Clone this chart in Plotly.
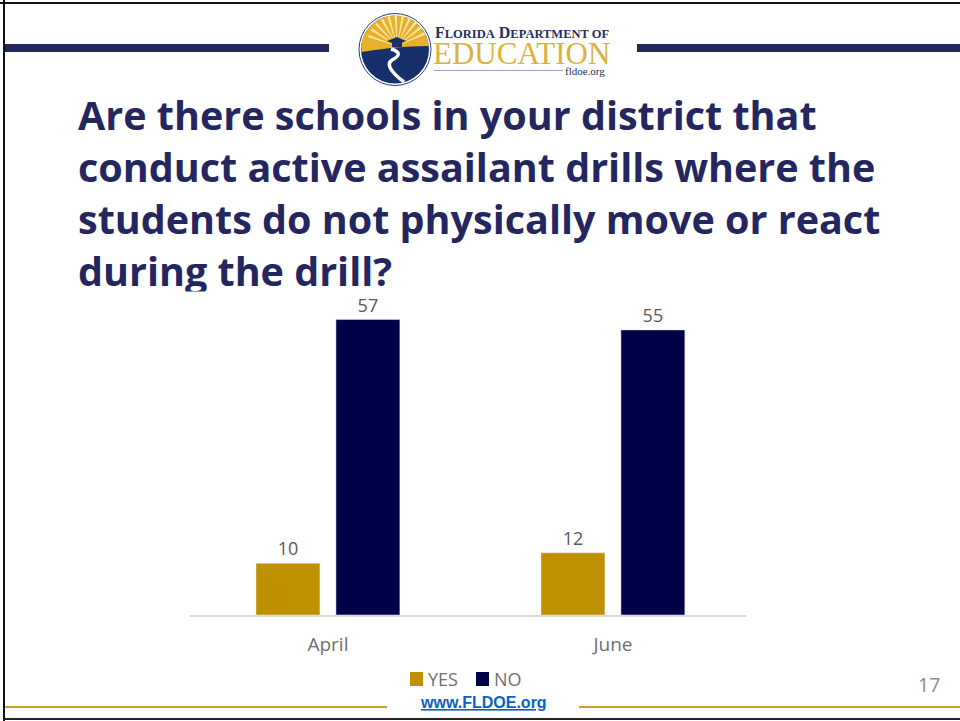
import math
import plotly.graph_objects as go

categories = ["April", "June"]
series_names = ["YES", "NO"]
yes_values = [10, 12]
no_values = [57, 55]
title_lines = [
    "Are there schools in your district that",
    "conduct active assailant drills where the",
    "students do not physically move or react",
    "during the drill?",
]

W, H = 960, 721
NAVY = "#24275f"
GOLD = "#bf9000"
DARK = "#000048"
GREY = "#6f6f6f"


def px(x):
    return x / W


def py(y):
    return 1 - y / H


def poly(points):
    return "M" + " L".join(f"{px(x):.5f},{py(y):.5f}" for x, y in points) + " Z"


def curve(d):
    out = []
    for tok in d:
        if isinstance(tok, str):
            out.append(tok)
        else:
            out.append(f"{px(tok[0]):.5f},{py(tok[1]):.5f}")
    return " ".join(out)


fig = go.Figure()
fig.add_trace(go.Bar(name=series_names[0], x=categories, y=yes_values, marker_color=GOLD,
                     text=yes_values, textposition="outside", cliponaxis=False,
                     textfont=dict(color="#595959", size=18, family="Open Sans")))
fig.add_trace(go.Bar(name=series_names[1], x=categories, y=no_values, marker_color=DARK,
                     text=no_values, textposition="outside", cliponaxis=False,
                     textfont=dict(color="#595959", size=18, family="Open Sans")))

shapes = []


def rect(x0, y0, x1, y1, color):
    shapes.append(dict(type="rect", xref="paper", yref="paper", x0=px(x0), x1=px(x1),
                       y0=py(y1), y1=py(y0), fillcolor=color, line_width=0, layer="below"))


def pshape(p, fill, line=None):
    shapes.append(dict(type="path", xref="paper", yref="paper", layer="below", path=p,
                       fillcolor=fill, line=line or dict(width=0)))


# slide frame and rules
rect(3, 0, 5, 721, "#111111")
rect(0, 2, 960, 4, "#111111")
rect(3, 718, 960, 720, "#222222")
rect(5, 44, 329, 52, NAVY)
rect(637, 44, 960, 52, NAVY)
rect(5, 706, 387, 708, "#cc9e2c")
rect(579, 706, 960, 708, "#cc9e2c")

# logo
cx, cy, r = 395, 49.5, 36
shapes.append(dict(type="circle", xref="paper", yref="paper", x0=px(cx - r), x1=px(cx + r),
                   y0=py(cy + r), y1=py(cy - r), fillcolor="white",
                   line=dict(color="#23407f", width=1), layer="below"))
ri = 34
shapes.append(dict(type="circle", xref="paper", yref="paper", x0=px(cx - ri), x1=px(cx + ri),
                   y0=py(cy + ri), y1=py(cy - ri), fillcolor="#16306c", line_width=0, layer="below"))
arc = [(cx + ri * math.cos(math.radians(a)), cy - ri * math.sin(math.radians(a)))
       for a in range(5, 176, 5)]
horizon = [(361.5, 52), (375, 50), (395, 47.5), (412, 46.5), (428.5, 46)]
pshape(poly(arc + horizon), "#e6b02a")
for a in range(20, 170, 14):
    tip = (397 + 30 * math.cos(math.radians(a)), 45 - 30 * math.sin(math.radians(a)))
    tip2 = (397 + 30 * math.cos(math.radians(a + 5)), 45 - 30 * math.sin(math.radians(a + 5)))
    pshape(poly([(397, 46), tip, tip2]), "#f7e4a2")
pshape(curve(["M", (391, 49), "Q", (405, 53), (392, 60), "Q", (383, 66), (404, 82)]),
       "rgba(0,0,0,0)", dict(color="white", width=3.5))
pshape(poly([(387, 41), (397, 37), (406, 41), (397, 45)]), "#1b2f66")
rect(392, 42, 402, 47, "#1b2f66")
rect(434, 70, 563, 71, "#9aa5c4")

annotations = []


def text(x, y, s, size, color, family, anchor="left", bold=False):
    annotations.append(dict(xref="paper", yref="paper", x=px(x), y=py(y), text=f"<b>{s}</b>" if bold else s,
                            showarrow=False, xanchor=anchor, yanchor="middle", align=anchor,
                            font=dict(size=size, color=color, family=family), borderpad=0))


for i, line in enumerate(title_lines):
    text(77, 115 + i * 52, line, 39.5, NAVY, "Open Sans", bold=True)

# the chart picture overlaps the last title line and trims its descenders
annotations.append(dict(xref="paper", yref="paper", x=px(77), y=py(291), text="&nbsp;", showarrow=False,
                        xanchor="left", yanchor="top", width=255, height=12, bgcolor="white",
                        font=dict(size=8), borderpad=0))

text(434, 33, "F<span style='font-size:12.5px'>LORIDA</span> D<span style='font-size:12.5px'>EPARTMENT OF</span>",
     16, "#24305f", "Liberation Serif", bold=True)
text(432, 54, "EDUCATION", 31, "#dcb13c", "Liberation Serif")
text(606, 71, "fldoe.org", 11, "#24305f", "Liberation Serif", anchor="right")
text(483, 702, "<u>www.FLDOE.org</u>", 16, "#0563c1", "Liberation Sans", anchor="center", bold=True)
text(929, 684, "17", 19.5, "#8a8a8a", "Open Sans", anchor="center")

# legend key, matching the tight swatch-to-label spacing of the original
for name, color, sx in zip(series_names, [GOLD, DARK], [410, 476]):
    rect(sx, 672, sx + 13, 686, color)
    text(sx + 17, 679, name, 18, GREY, "Open Sans")

fig.update_layout(
    width=W, height=H, autosize=False,
    margin=dict(l=0, r=0, t=0, b=0),
    paper_bgcolor="white", plot_bgcolor="white",
    barmode="group", bargap=0.439, bargroupgap=0.2,
    xaxis=dict(domain=[px(190), px(746)], range=[-0.484, 1.467], type="category",
               showgrid=False, showline=True, linecolor="#d9d9d9", linewidth=1.5,
               ticks="", tickfont=dict(size=19, color=GREY, family="Open Sans"), ticklabelstandoff=11),
    yaxis=dict(domain=[py(615), py(304)], range=[0, 60], visible=False),
    shapes=shapes, annotations=annotations, showlegend=False,
)
fig.write_html("out.html", config={"displayModeBar": False},
               post_script="document.body.style.margin='0';document.documentElement.style.overflow='hidden';window.dispatchEvent(new Event('resize'));")
